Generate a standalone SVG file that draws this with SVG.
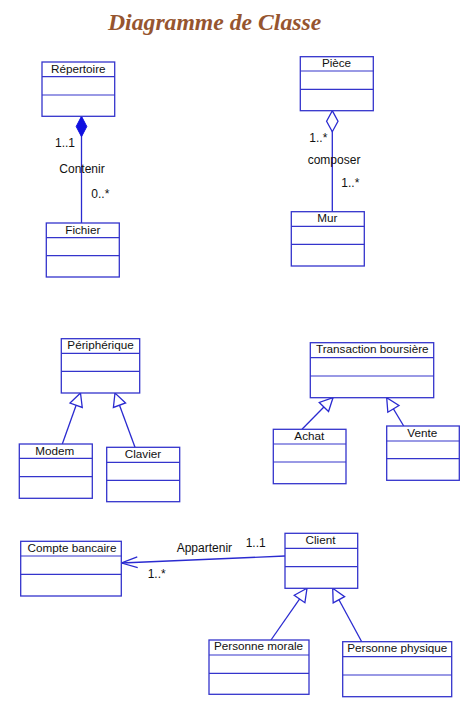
<svg xmlns="http://www.w3.org/2000/svg" width="476" height="708" viewBox="0 0 476 708">
<style>
.box{fill:#fff;stroke:#3434cc;stroke-width:1.3}
.div{stroke:#3434cc;stroke-width:1.2}
.name{font-family:"Liberation Sans",Arial,sans-serif;font-size:11.7px;fill:#111;text-anchor:middle}
.lbl{font-family:"Liberation Sans",Arial,sans-serif;font-size:12px;fill:#111}
.conn{stroke:#2a2ad0;stroke-width:1.3;fill:none}
.title{font-family:"Liberation Serif","Times New Roman",serif;font-size:23.7px;font-weight:bold;font-style:italic;fill:#96552f}
</style>
<defs>
<marker id="comp" markerUnits="userSpaceOnUse" orient="auto" refX="0" refY="0" markerWidth="22" markerHeight="12" overflow="visible">
<path d="M0,0 L-10.2,-5.3 L-20.4,0 L-10.2,5.3 Z" fill="#1010e0" stroke="#1010e0" stroke-width="1"/>
</marker>
<marker id="aggr" markerUnits="userSpaceOnUse" orient="auto" refX="0" refY="0" markerWidth="22" markerHeight="12" overflow="visible">
<path d="M0,0 L-10.5,-5.7 L-21,0 L-10.5,5.7 Z" fill="#fff" stroke="#2a2ad0" stroke-width="1.3"/>
</marker>
<marker id="gen" markerUnits="userSpaceOnUse" orient="auto" refX="0" refY="0" markerWidth="14" markerHeight="14" overflow="visible">
<path d="M0,0 L-13,-6.5 L-13,6.5 Z" fill="#fff" stroke="#2a2ad0" stroke-width="1.3"/>
</marker>
<marker id="open" markerUnits="userSpaceOnUse" orient="auto" refX="0" refY="0" markerWidth="18" markerHeight="12" overflow="visible">
<path d="M-16,-5.4 L0,0 L-16,5.4" fill="none" stroke="#2a2ad0" stroke-width="1.3"/>
</marker>
</defs>

<text class="title" x="108" y="30">Diagramme de Classe</text>

<g id="connectors">
<line class="conn" x1="81.5" y1="223" x2="81.5" y2="116.3" marker-end="url(#comp)"/>
<line class="conn" x1="332.3" y1="211.7" x2="332.3" y2="110.7" marker-end="url(#aggr)"/>
<line class="conn" x1="62.3" y1="444" x2="80.5" y2="393" marker-end="url(#gen)"/>
<line class="conn" x1="135" y1="447.3" x2="115" y2="393" marker-end="url(#gen)"/>
<line class="conn" x1="302" y1="429.3" x2="333" y2="397.7" marker-end="url(#gen)"/>
<line class="conn" x1="403.7" y1="426" x2="386.7" y2="397.7" marker-end="url(#gen)"/>
<line class="conn" x1="271" y1="640" x2="307" y2="588.3" marker-end="url(#gen)"/>
<line class="conn" x1="361.7" y1="641.7" x2="332.7" y2="588.3" marker-end="url(#gen)"/>
<line class="conn" x1="285" y1="556" x2="121.5" y2="563" marker-end="url(#open)"/>
<text class="lbl" x="55" y="147">1..1</text>
<text class="lbl" x="59.3" y="172.7">Contenir</text>
<text class="lbl" x="91.3" y="197.7">0..*</text>
<text class="lbl" x="309.3" y="141.7">1..*</text>
<text class="lbl" x="307.7" y="164">composer</text>
<text class="lbl" x="341.3" y="186.7">1..*</text>
<text class="lbl" x="176.7" y="552.3">Appartenir</text>
<text class="lbl" x="245.7" y="546.7">1..1</text>
<text class="lbl" x="147.7" y="578.3">1..*</text>
</g>

<g id="repertoire">
<rect class="box" x="42" y="62" width="72.7" height="54.3"/>
<line class="div" x1="42" y1="76.7" x2="114.7" y2="76.7"/>
<line class="div" x1="42" y1="95" x2="114.7" y2="95"/>
<text class="name" x="78.3" y="72.8">Répertoire</text>
</g>
<g id="fichier">
<rect class="box" x="46.3" y="223" width="73" height="54"/>
<line class="div" x1="46.3" y1="237.7" x2="119.3" y2="237.7"/>
<line class="div" x1="46.3" y1="255.7" x2="119.3" y2="255.7"/>
<text class="name" x="82.8" y="233.6">Fichier</text>
</g>
<g id="piece">
<rect class="box" x="300.3" y="56.7" width="73" height="54"/>
<line class="div" x1="300.3" y1="71" x2="373.3" y2="71"/>
<line class="div" x1="300.3" y1="89.3" x2="373.3" y2="89.3"/>
<text class="name" x="336.5" y="67">Pièce</text>
</g>
<g id="mur">
<rect class="box" x="291.3" y="211.7" width="73" height="54.3"/>
<line class="div" x1="291.3" y1="226.3" x2="364.3" y2="226.3"/>
<line class="div" x1="291.3" y1="244.3" x2="364.3" y2="244.3"/>
<text class="name" x="327.3" y="222">Mur</text>
</g>
<g id="peripherique">
<rect class="box" x="61.3" y="338.7" width="78.4" height="54.3"/>
<line class="div" x1="61.3" y1="353.3" x2="139.7" y2="353.3"/>
<line class="div" x1="61.3" y1="371.3" x2="139.7" y2="371.3"/>
<text class="name" x="100.5" y="348.8">Périphérique</text>
</g>
<g id="modem">
<rect class="box" x="19.3" y="444" width="73" height="54.3"/>
<line class="div" x1="19.3" y1="458.3" x2="92.3" y2="458.3"/>
<line class="div" x1="19.3" y1="476.7" x2="92.3" y2="476.7"/>
<text class="name" x="54.8" y="454.6">Modem</text>
</g>
<g id="clavier">
<rect class="box" x="106.7" y="447.3" width="73" height="54.4"/>
<line class="div" x1="106.7" y1="462.3" x2="179.7" y2="462.3"/>
<line class="div" x1="106.7" y1="480.3" x2="179.7" y2="480.3"/>
<text class="name" x="143" y="458">Clavier</text>
</g>
<g id="transaction">
<rect class="box" x="310.3" y="342.7" width="123.4" height="55"/>
<line class="div" x1="310.3" y1="357.7" x2="433.7" y2="357.7"/>
<line class="div" x1="310.3" y1="376" x2="433.7" y2="376"/>
<text class="name" x="372.3" y="353">Transaction boursière</text>
</g>
<g id="achat">
<rect class="box" x="273.3" y="429.3" width="72.7" height="54.4"/>
<line class="div" x1="273.3" y1="444" x2="346" y2="444"/>
<line class="div" x1="273.3" y1="462" x2="346" y2="462"/>
<text class="name" x="309.3" y="440">Achat</text>
</g>
<g id="vente">
<rect class="box" x="386.7" y="426" width="72.6" height="54.3"/>
<line class="div" x1="386.7" y1="441" x2="459.3" y2="441"/>
<line class="div" x1="386.7" y1="458.7" x2="459.3" y2="458.7"/>
<text class="name" x="422.3" y="436.5">Vente</text>
</g>
<g id="compte">
<rect class="box" x="20.7" y="541.3" width="100.6" height="54.7"/>
<line class="div" x1="20.7" y1="556" x2="121.3" y2="556"/>
<line class="div" x1="20.7" y1="574.3" x2="121.3" y2="574.3"/>
<text class="name" x="72" y="551.8">Compte bancaire</text>
</g>
<g id="client">
<rect class="box" x="285" y="533.3" width="72.7" height="55"/>
<line class="div" x1="285" y1="548.3" x2="357.7" y2="548.3"/>
<line class="div" x1="285" y1="566.7" x2="357.7" y2="566.7"/>
<text class="name" x="320.5" y="543.6">Client</text>
</g>
<g id="personne-morale">
<rect class="box" x="209" y="640" width="100" height="54.3"/>
<line class="div" x1="209" y1="655" x2="309" y2="655"/>
<line class="div" x1="209" y1="673.3" x2="309" y2="673.3"/>
<text class="name" x="258.5" y="650.4">Personne morale</text>
</g>
<g id="personne-physique">
<rect class="box" x="342.7" y="641.7" width="109" height="55"/>
<line class="div" x1="342.7" y1="656.7" x2="451.7" y2="656.7"/>
<line class="div" x1="342.7" y1="675" x2="451.7" y2="675"/>
<text class="name" x="397.3" y="652.2">Personne physique</text>
</g>
</svg>
